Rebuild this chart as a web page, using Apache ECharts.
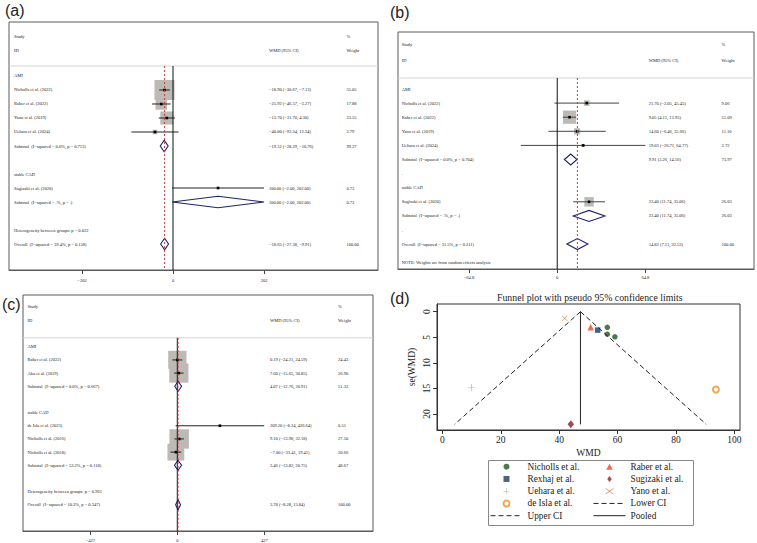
<!DOCTYPE html>
<html><head><meta charset="utf-8">
<script src="https://cdn.jsdelivr.net/npm/echarts@6/dist/echarts.min.js"></script>
<style>html,body{margin:0;padding:0;background:#fff}#c{width:757px;height:543px}</style>
</head><body><div id="c"></div>
<script>
// ---------- Panel (a) ----------
const A_labels = ['AMI','Nicholls et al. (2022)','Raber et al. (2022)','Yano et al. (2019)','Uehara et al. (2024)','Subtotal  (I\u2212squared = 0.0%, p = 0.713)','','stable CAD','Sugizaki et al. (2020)','Subtotal  (I\u2212squared = .%, p = .)','','Heterogeneity between groups: p = 0.022','Overall  (I\u2212squared = 39.4%, p = 0.158)'];
const A_kind = ['h','s','s','s','s','d','','h','s','d','','h','d'];
const A_est = [null,-18.90,-25.92,-13.70,-40.00,-19.52,null,null,100.00,100.00,null,null,-18.65];
const A_lo  = [null,-30.67,-46.57,-31.70,-92.34,-28.29,null,null,-2.00,-2.00,null,null,-27.38];
const A_hi  = [null,-7.13,-5.27,4.30,12.34,-10.76,null,null,202.00,202.00,null,null,-9.91];
const A_wt  = [null,55.05,17.88,23.55,2.79,99.27,null,null,0.73,0.73,null,null,100.00];
const A_ticks = [-202,0,202];

// ---------- Panel (b) ----------
const B_labels = ['AMI','Nicholls et al. (2022)','Raber et al. (2022)','Yano et al. (2019)','Uehara et al. (2024)','Subtotal  (I\u2212squared = 0.0%, p = 0.704)','.','stable CAD','Sugizaki et al. (2020)','Subtotal  (I\u2212squared = .%, p = .)','.','Overall  (I\u2212squared = 31.5%, p = 0.211)'];
const B_kind = ['h','s','s','s','s','d','h','h','s','d','h','d'];
const B_est = [null,21.70,9.05,14.60,19.03,9.91,null,null,23.40,23.40,null,14.82];
const B_lo  = [null,-2.05,4.15,-6.46,-26.71,5.26,null,null,11.74,11.74,null,7.11];
const B_hi  = [null,45.45,13.95,35.66,64.77,14.56,null,null,35.06,35.06,null,22.53];
const B_wt  = [null,9.06,51.09,11.10,2.72,73.97,null,null,26.03,26.03,null,100.00];
const B_note = 'NOTE: Weights are from random effects analysis';
const B_ticks = [-64.8,0,64.8];

// ---------- Panel (c) ----------
const C_labels = ['AMI','Raber et al. (2022)','Ako et al. (2019)','Subtotal  (I\u2212squared = 0.0%, p = 0.667)','','stable CAD','de Isla et al. (2023)','Nicholls et al. (2016)','Nicholls et al. (2018)','Subtotal  (I\u2212squared = 53.2%, p = 0.118)','','Heterogeneity between groups: p = 0.961','Overall  (I\u2212squared = 10.3%, p = 0.347)'];
const C_kind = ['h','s','s','d','','h','s','s','s','d','','h','d'];
const C_est = [null,0.19,7.60,4.07,null,null,209.20,9.10,-7.00,3.46,null,null,3.78];
const C_lo  = [null,-24.21,-15.65,-12.76,null,null,-8.24,-13.98,-33.41,-13.82,null,null,-8.28];
const C_hi  = [null,24.59,30.85,20.91,null,null,426.64,32.18,19.41,20.75,null,null,15.84];
const C_wt  = [null,24.43,26.90,51.33,null,null,0.51,27.50,20.66,48.67,null,null,100.00];
const C_ticks = [-427,0,427];

// ---------- Panel (d) funnel ----------
const F_nicholls = [[56.5,3.05],[56.5,4.4],[59.1,4.9]];
const F_raber    = [[50.8,3.05]];
const F_rexhaj   = [[53.2,3.6]];
const F_sugizaki = [[44.0,22.0]];
const F_uehara   = [[9.9,14.8]];
const F_yano     = [[41.9,1.3]];
const F_deisla   = [[93.7,15.2]];
const F_lowerCI  = [[47.3,0],[4.2,22]];
const F_upperCI  = [[47.3,0],[90.4,22]];
const F_pooled   = [[47.3,0],[47.3,22]];
const F_xticks = [0,20,40,60,80,100];
const F_yticks = [0,5,10,15,20];

const SERIF = "'Liberation Serif', 'DejaVu Serif', serif";
const SANS = "'Liberation Sans', Arial, sans-serif";
const FS = 4.5;
const MINUS = '\u2212';
function fmt(v){ return (v<0?MINUS:'') + Math.abs(v).toFixed(2); }
function tickFmt(v){ return v<0 ? MINUS + Math.abs(v) : String(v); }

const grids=[], xAxes=[], yAxes=[], series=[];

function addForest(k, P, D){
  grids.push({left:P.left, top:P.top, width:P.width, height:P.height, show:true, borderColor:'#5a5a5a', borderWidth:1, backgroundColor:'#fff'});
  xAxes.push({gridIndex:k, type:'value', min:P.xmin, max:P.xmax,
    axisLine:{show:true, onZero:false, lineStyle:{color:'#5a5a5a', width:1}},
    axisTick:{show:true, length:4, customValues:D.ticks, lineStyle:{color:'#444'}},
    axisLabel:{show:true, customValues:D.ticks, margin:P.margin, fontFamily:SERIF, fontSize:FS, color:'#222', formatter:tickFmt},
    splitLine:{show:false}});
  yAxes.push({gridIndex:k, type:'value', inverse:true, min:P.ymin, max:P.ymax, show:false});
  const ax = {xAxisIndex:k, yAxisIndex:k, animation:false, silent:true};
  const n = D.est.length;
  const ov = D.est[n-1];
  series.push({type:'line', ...ax, data:[[P.xmin,P.sep],[P.xmax,P.sep]], symbol:'none', lineStyle:{color:'#d4d4d4', width:1}});
  series.push({type:'line', ...ax, data:[[0,P.sep],[0,P.ymax]], symbol:'none', lineStyle:{color:'#111', width:1}});
  series.push({type:'line', ...ax, data:[[ov,P.sep],[ov,P.ymax]], symbol:'none', lineStyle:{color:'#d8343c', width:1, type:[2,2]}});
  const st = [], dm = [];
  D.kind.forEach((t,i)=>{ if(t==='s') st.push(i); if(t==='d') dm.push(i); });
  series.push({type:'custom', ...ax, data: st.map(i=>[D.est[i], i, D.wt[i]]), encode:{x:0, y:1},
    renderItem:(p,api)=>{ const c=api.coord([api.value(0),api.value(1)]); const s=P.box*Math.sqrt(api.value(2));
      return {type:'rect', shape:{x:c[0]-s/2, y:c[1]-s/2, width:s, height:s}, style:{fill:'#bdb9b5'}}; }});
  series.push({type:'custom', ...ax, data: st.map(i=>[D.lo[i], D.hi[i], i, D.est[i]]), encode:{x:[0,1], y:2},
    renderItem:(p,api)=>{ const r=api.value(2);
      const a=api.coord([api.value(0),r]), b=api.coord([api.value(1),r]), e=api.coord([api.value(3),r]);
      return {type:'group', children:[
        {type:'line', shape:{x1:a[0],y1:a[1],x2:b[0],y2:b[1]}, style:{stroke:P.ci, lineWidth:1}},
        {type:'rect', shape:{x:e[0]-1.3, y:e[1]-1.3, width:2.6, height:2.6}, style:{fill:'#000'}}]}; }});
  series.push({type:'custom', ...ax, data: dm.map(i=>[D.lo[i], D.est[i], D.hi[i], i]), encode:{x:[0,2], y:3},
    renderItem:(p,api)=>{ const r=api.value(3);
      const a=api.coord([api.value(0),r]), e=api.coord([api.value(1),r]), b=api.coord([api.value(2),r]);
      return {type:'polygon', shape:{points:[[a[0],a[1]],[e[0],e[1]-P.dh],[b[0],b[1]],[e[0],e[1]+P.dh]]}, style:{fill:'none', stroke:'#1c2468', lineWidth:1.1}}; }});
  const texts = [];
  texts.push([P.colLabel, P.hStudy, 'Study']); texts.push([P.colWt, P.hStudy, '%']);
  texts.push([P.colLabel, P.hId, 'ID']); texts.push([P.colWmd, P.hId, 'WMD (95% CI)']); texts.push([P.colWt, P.hId, 'Weight']);
  D.labels.forEach((t,i)=>{
    if(t) texts.push([P.colLabel, i, t]);
    if(D.est[i]!=null){
      texts.push([P.colWmd, i, fmt(D.est[i])+' ('+fmt(D.lo[i])+', '+fmt(D.hi[i])+')']);
      texts.push([P.colWt, i, D.wt[i].toFixed(2)]);
    }
  });
  if(D.note) texts.push([P.colLabel, P.noteRow, D.note]);
  series.push({type:'custom', ...ax, data: texts.map(t=>[t[0],t[1]]), encode:{x:0, y:1},
    renderItem:(p,api)=>{ const c=api.coord([api.value(0),api.value(1)]);
      return {type:'text', x:c[0], y:c[1], style:{text:texts[p.dataIndex][2], fill:'#222', fontSize:FS, fontFamily:SERIF, align:'left', verticalAlign:'middle'}}; }});
}

addForest(0, {left:9, top:22, width:369, height:248, xmin:-364, xmax:455, ymin:-3.857, ymax:13.857,
  hStudy:-2.857, hId:-1.857, sep:-0.714, colLabel:-353, colWmd:213, colWt:385, box:2.7, dh:5.7, margin:8, ci:'#222'},
  {labels:A_labels, kind:A_kind, est:A_est, lo:A_lo, hi:A_hi, wt:A_wt, ticks:A_ticks});
addForest(1, {left:398, top:32, width:356, height:237, xmin:-117, xmax:144.6, ymin:-4.043, ymax:12.766,
  hStudy:-3.19, hId:-1.99, sep:-0.78, noteRow:12.34, colLabel:-114.3, colWmd:67.2, colWt:120.8, box:1.85, dh:5.5, margin:6, ci:'#444'},
  {labels:B_labels, kind:B_kind, est:B_est, lo:B_lo, hi:B_hi, wt:B_wt, ticks:B_ticks, note:B_note});
addForest(2, {left:23, top:295, width:350, height:236, xmin:-757.5, xmax:960.7, ymin:-3.93, ymax:13.99,
  hStudy:-3.04, hId:-2.03, sep:-0.68, colLabel:-736, colWmd:455, colWt:789, box:3.7, dh:5, margin:7, ci:'#222'},
  {labels:C_labels, kind:C_kind, est:C_est, lo:C_lo, hi:C_hi, wt:C_wt, ticks:C_ticks});

grids.push({left:437, top:304, width:303, height:126, show:true, borderColor:'#333', borderWidth:1, backgroundColor:'#fff'});
const axTxt = {fontFamily:SERIF, fontSize:9.5, color:'#222'};
xAxes.push({gridIndex:3, type:'value', min:-1.85, max:101.96, name:'WMD', nameLocation:'middle', nameGap:18, nameTextStyle:axTxt,
  axisLine:{show:true, onZero:false, lineStyle:{color:'#333'}}, axisTick:{show:true, length:4, customValues:F_xticks, lineStyle:{color:'#333'}},
  axisLabel:{customValues:F_xticks, margin:5, ...axTxt}, splitLine:{show:false}});
yAxes.push({gridIndex:3, type:'value', inverse:true, min:-1.5, max:23.1, name:'se(WMD)', nameLocation:'middle', nameGap:20, nameRotate:90, nameTextStyle:axTxt,
  axisLine:{show:true, onZero:false, lineStyle:{color:'#333'}}, axisTick:{show:true, length:4, customValues:F_yticks, lineStyle:{color:'#333'}},
  axisLabel:{customValues:F_yticks, rotate:90, margin:5, ...axTxt}, splitLine:{show:false}});
const fx = {xAxisIndex:3, yAxisIndex:3, animation:false};
const PLUS = 'path://M-0.45,-5H0.45V-0.45H5V0.45H0.45V5H-0.45V0.45H-5V-0.45H-0.45Z';
const CROSS = 'path://M-3.9,-3.3L0,-0.6L3.9,-3.3L4.5,-2.7L0.6,0L4.5,2.7L3.9,3.3L0,0.6L-3.9,3.3L-4.5,2.7L-0.6,0L-4.5,-2.7Z';
const TRI = 'path://M0,-5L5,4L-5,4Z';
const SQ = 'path://M-5,-5H5V5H-5Z';
const DIA = 'path://M0,-6L4.5,0L0,6L-4.5,0Z';
const noMark = {color:'rgba(0,0,0,0)', borderWidth:0};
series.push({type:'line', name:'Lower CI', ...fx, data:F_lowerCI, symbol:'none', itemStyle:noMark, lineStyle:{color:'#222', width:1, type:[5,3]}});
series.push({type:'line', name:'Upper CI', ...fx, data:F_upperCI, symbol:'none', itemStyle:noMark, lineStyle:{color:'#222', width:1, type:[5,3]}});
series.push({type:'line', name:'Pooled', ...fx, data:F_pooled, symbol:'none', itemStyle:noMark, lineStyle:{color:'#222', width:1}});
series.push({type:'scatter', name:'Nicholls et al.', ...fx, data:F_nicholls, symbol:'circle', symbolSize:5.5, itemStyle:{color:'#1e5a1e'}});
series.push({type:'scatter', name:'Raber et al.', ...fx, data:F_raber, symbol:TRI, symbolSize:6.5, itemStyle:{color:'#f0461e'}});
series.push({type:'scatter', name:'Rexhaj et al.', ...fx, data:F_rexhaj, symbol:SQ, symbolSize:5.5, itemStyle:{color:'#1d3d63'}});
series.push({type:'scatter', name:'Sugizaki et al.', ...fx, data:F_sugizaki, symbol:DIA, symbolSize:[6.5,8], itemStyle:{color:'#8b1c2c'}});
series.push({type:'scatter', name:'Uehara et al.', ...fx, data:F_uehara, symbol:PLUS, symbolSize:7, itemStyle:{color:'#8fa08f'}});
series.push({type:'scatter', name:'Yano et al.', ...fx, data:F_yano, symbol:CROSS, symbolSize:5.5, itemStyle:{color:'#c8703c'}});
series.push({type:'scatter', name:'de Isla et al.', ...fx, data:F_deisla, symbol:'emptyCircle', symbolSize:6, itemStyle:{color:'#f0922a', borderWidth:1.2}});

const legText = {fontFamily:SERIF, fontSize:9.3, color:'#222', lineHeight:10};
const legBase = {orient:'vertical', itemWidth:32, itemHeight:6, itemGap:2.25, padding:0, textStyle:legText, selectedMode:false, symbolKeepAspect:true, lineStyle:{width:1}};

const ttl = t => ({fontFamily:SANS, fontSize:16, fontWeight:'normal', color:'#222'});
const option = {
  backgroundColor:'#fff',
  animation:false,
  title:[
    {text:'(a)', left:5, top:2, padding:0, textStyle:ttl()},
    {text:'(b)', left:390, top:4, padding:0, textStyle:ttl()},
    {text:'(c)', left:2, top:296, padding:0, textStyle:ttl()},
    {text:'(d)', left:390, top:290, padding:0, textStyle:ttl()},
    {text:'Funnel plot with pseudo 95% confidence limits', left:497, top:292, padding:0, textStyle:{fontFamily:SERIF, fontSize:9.8, fontWeight:'normal', color:'#222'}}
  ],
  legend:[
    {...legBase, left:490, top:461.7, data:['Nicholls et al.','Rexhaj et al.','Uehara et al.','de Isla et al.','Upper CI']},
    {...legBase, left:593, top:461.7, data:['Raber et al.','Sugizaki et al.','Yano et al.','Lower CI','Pooled']}
  ],
  graphic:[{type:'rect', left:486, top:458, shape:{width:205, height:65}, style:{fill:'none', stroke:'#888', lineWidth:1}, silent:true}],
  grid:grids, xAxis:xAxes, yAxis:yAxes, series:series
};
const chart = echarts.init(document.getElementById('c'), null, {renderer:'svg'});
chart.setOption(option);
</script></body></html>
